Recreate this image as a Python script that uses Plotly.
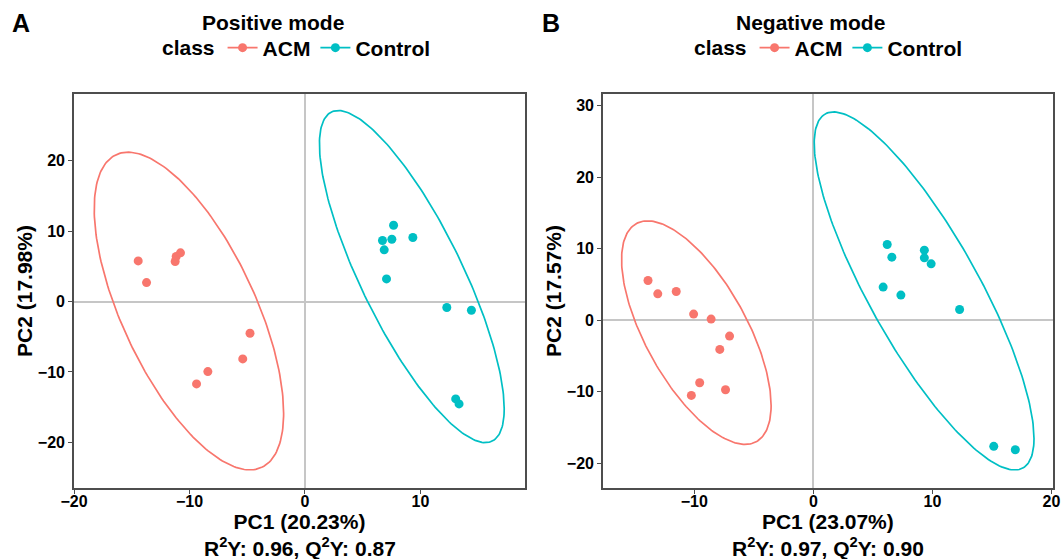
import numpy as np
import plotly.graph_objects as go

W, H = 1063, 559
RED = "#F8766D"
TEAL = "#00BFC4"
FONT = "Liberation Sans, Arial, sans-serif"

# ---------------- data ----------------
groups = ["ACM", "Control"]

# Panel A (positive mode)
pos_acm_pc1 = [-14.44, -13.72, -11.24, -11.15, -10.78, -4.76, -5.39, -8.41, -9.39]
pos_acm_pc2 = [5.78, 2.70, 5.69, 6.40, 6.92, -4.50, -8.15, -9.95, -11.71]
pos_ctl_pc1 = [7.67, 6.71, 7.52, 9.34, 6.86, 7.06, 12.28, 14.41, 13.05, 13.34]
pos_ctl_pc2 = [10.85, 8.67, 8.86, 9.10, 7.35, 3.22, -0.85, -1.23, -13.84, -14.55]

# Panel B (negative mode)
neg_acm_pc1 = [-13.89, -13.07, -11.52, -10.06, -8.59, -7.04, -7.86, -9.55, -10.25, -7.38]
neg_acm_pc2 = [5.55, 3.68, 4.01, 0.84, 0.14, -2.24, -4.10, -8.76, -10.54, -9.74]
neg_ctl_pc1 = [6.20, 6.59, 9.32, 9.32, 9.89, 5.86, 7.35, 12.28, 15.15, 16.96]
neg_ctl_pc2 = [10.58, 8.81, 9.79, 8.72, 7.88, 4.62, 3.50, 1.49, -17.67, -18.14]

# Confidence ellipses: centre, half-extent in x / y, correlation
pos_ell_cx = [-10.05, 9.25]
pos_ell_cy = [-1.35, 3.55]
pos_ell_sx = [8.2, 8.0]
pos_ell_sy = [22.58, 23.6]
pos_ell_r = [-0.643, -0.796]

neg_ell_cx = [-9.83, 9.30]
neg_ell_cy = [-1.75, 4.08]
neg_ell_sx = [6.28, 9.23]
neg_ell_sy = [15.64, 25.06]
neg_ell_r = [-0.652, -0.824]

titles = ["Positive mode", "Negative mode"]
panel_letters = ["A", "B"]
pc1_labels = ["PC1 (20.23%)", "PC1 (23.07%)"]
pc2_labels = ["PC2 (17.98%)", "PC2 (17.57%)"]
fit_labels = ["R<sup>2</sup>Y: 0.96, Q<sup>2</sup>Y: 0.87",
              "R<sup>2</sup>Y: 0.97, Q<sup>2</sup>Y: 0.90"]

x_ranges = [[-20, 19.05], [-17.67, 20.1]]
y_ranges = [[-26.5, 29.5], [-23.5, 31.65]]
x_ticks = [[-20, -10, 0, 10], [-10, 0, 10, 20]]
y_ticks = [[-20, -10, 0, 10, 20], [-20, -10, 0, 10, 20, 30]]

# ---------------- figure ----------------
fig = go.Figure()
colors = [RED, TEAL]


def ellipse(cx, cy, sx, sy, r, n=240):
    t = np.linspace(0, 2 * np.pi, n)
    x = cx + sx * np.cos(t)
    y = cy + sy * (r * np.cos(t) + np.sqrt(1 - r * r) * np.sin(t))
    return x, y


panels = [
    dict(pts=[(pos_acm_pc1, pos_acm_pc2), (pos_ctl_pc1, pos_ctl_pc2)],
         ell=(pos_ell_cx, pos_ell_cy, pos_ell_sx, pos_ell_sy, pos_ell_r)),
    dict(pts=[(neg_acm_pc1, neg_acm_pc2), (neg_ctl_pc1, neg_ctl_pc2)],
         ell=(neg_ell_cx, neg_ell_cy, neg_ell_sx, neg_ell_sy, neg_ell_r)),
]

for p, panel in enumerate(panels):
    xa = "x" if p == 0 else "x2"
    ya = "y" if p == 0 else "y2"
    leg = "legend" if p == 0 else "legend2"
    cx, cy, sx, sy, rr = panel["ell"]
    for g in range(2):
        ex, ey = ellipse(cx[g], cy[g], sx[g], sy[g], rr[g])
        fig.add_trace(go.Scatter(x=ex, y=ey, mode="lines", xaxis=xa, yaxis=ya,
                                 line=dict(color=colors[g], width=1.7),
                                 showlegend=False, hoverinfo="skip"))
        px, py = panel["pts"][g]
        fig.add_trace(go.Scatter(x=px, y=py, mode="markers", xaxis=xa, yaxis=ya,
                                 marker=dict(color=colors[g], size=9),
                                 name=groups[g], showlegend=False))
        # legend key (line + point)
        fig.add_trace(go.Scatter(x=[None], y=[None], mode="lines+markers",
                                 xaxis=xa, yaxis=ya, legend=leg,
                                 line=dict(color=colors[g], width=1.7),
                                 marker=dict(color=colors[g], size=9),
                                 name=groups[g]))

# plot areas in pixels
areas = [(74, 525, 94, 488), (603, 1052.7, 94, 488)]
axis_common = dict(showline=True, mirror=True, linecolor="#4d4d4d", linewidth=1.6,
                   ticks="outside", ticklen=4, tickcolor="#4d4d4d", tickwidth=1.2,
                   showgrid=False, zeroline=True, zerolinecolor="#c6c6c6",
                   zerolinewidth=1.6, automargin=False,
                   tickfont=dict(family=FONT, size=16, color="black", weight="bold"))

layout = dict(width=W, height=H, margin=dict(l=0, r=0, t=0, b=0, autoexpand=False),
              paper_bgcolor="white", plot_bgcolor="white",
              font=dict(family=FONT, color="black", weight="bold"))

annotations = []
for p in range(2):
    x0, x1, y0, y1 = areas[p]
    sfx = "" if p == 0 else "2"
    layout["xaxis" + sfx] = dict(axis_common, domain=[x0 / W, x1 / W], range=x_ranges[p],
                                 tickvals=x_ticks[p], anchor="y" + sfx, ticklabelstandoff=-6,
                                 title=dict(text=pc1_labels[p], standoff=0,
                                            font=dict(family=FONT, size=21, weight="bold")))
    layout["yaxis" + sfx] = dict(axis_common, domain=[1 - y1 / H, 1 - y0 / H], range=y_ranges[p],
                                 tickvals=y_ticks[p], anchor="x" + sfx,
                                 title=dict(text=pc2_labels[p], standoff=0,
                                            font=dict(family=FONT, size=21, weight="bold")))
    cxp = (x0 + x1) / 2
    annotations.append(dict(text=fit_labels[p], x=cxp / W, y=1 - 547 / H, xref="paper", yref="paper",
                            xanchor="center", yanchor="middle", showarrow=False,
                            font=dict(family=FONT, size=21, weight="bold")))

title_x = [272.5, 810]
letter_x = [10, 540]
for p in range(2):
    annotations.append(dict(text=titles[p], x=title_x[p] / W, y=1 - 22 / H, xref="paper", yref="paper",
                            xanchor="center", yanchor="middle", showarrow=False,
                            font=dict(family=FONT, size=21, weight="bold")))
    annotations.append(dict(text=panel_letters[p], x=letter_x[p] / W, y=1 - 23 / H, xref="paper",
                            yref="paper", xanchor="left", yanchor="middle", showarrow=False,
                            font=dict(family=FONT, size=25, weight="bold")))
layout["annotations"] = annotations

legend_x = [160, 692]
for p in range(2):
    key = "legend" if p == 0 else "legend2"
    layout[key] = dict(title=dict(text="class", side="left",
                                  font=dict(family=FONT, size=21, weight="bold")),
                       orientation="h", x=legend_x[p] / W, xanchor="left",
                       y=1 - 48 / H, yanchor="middle", bgcolor="rgba(0,0,0,0)",
                       itemwidth=30, tracegroupgap=0,
                       font=dict(family=FONT, size=21, weight="bold"))

fig.update_layout(**layout)
fig.write_html("out.html", config={"displayModeBar": False},
               post_script="document.body.style.margin='0';document.body.style.overflow='hidden';")
